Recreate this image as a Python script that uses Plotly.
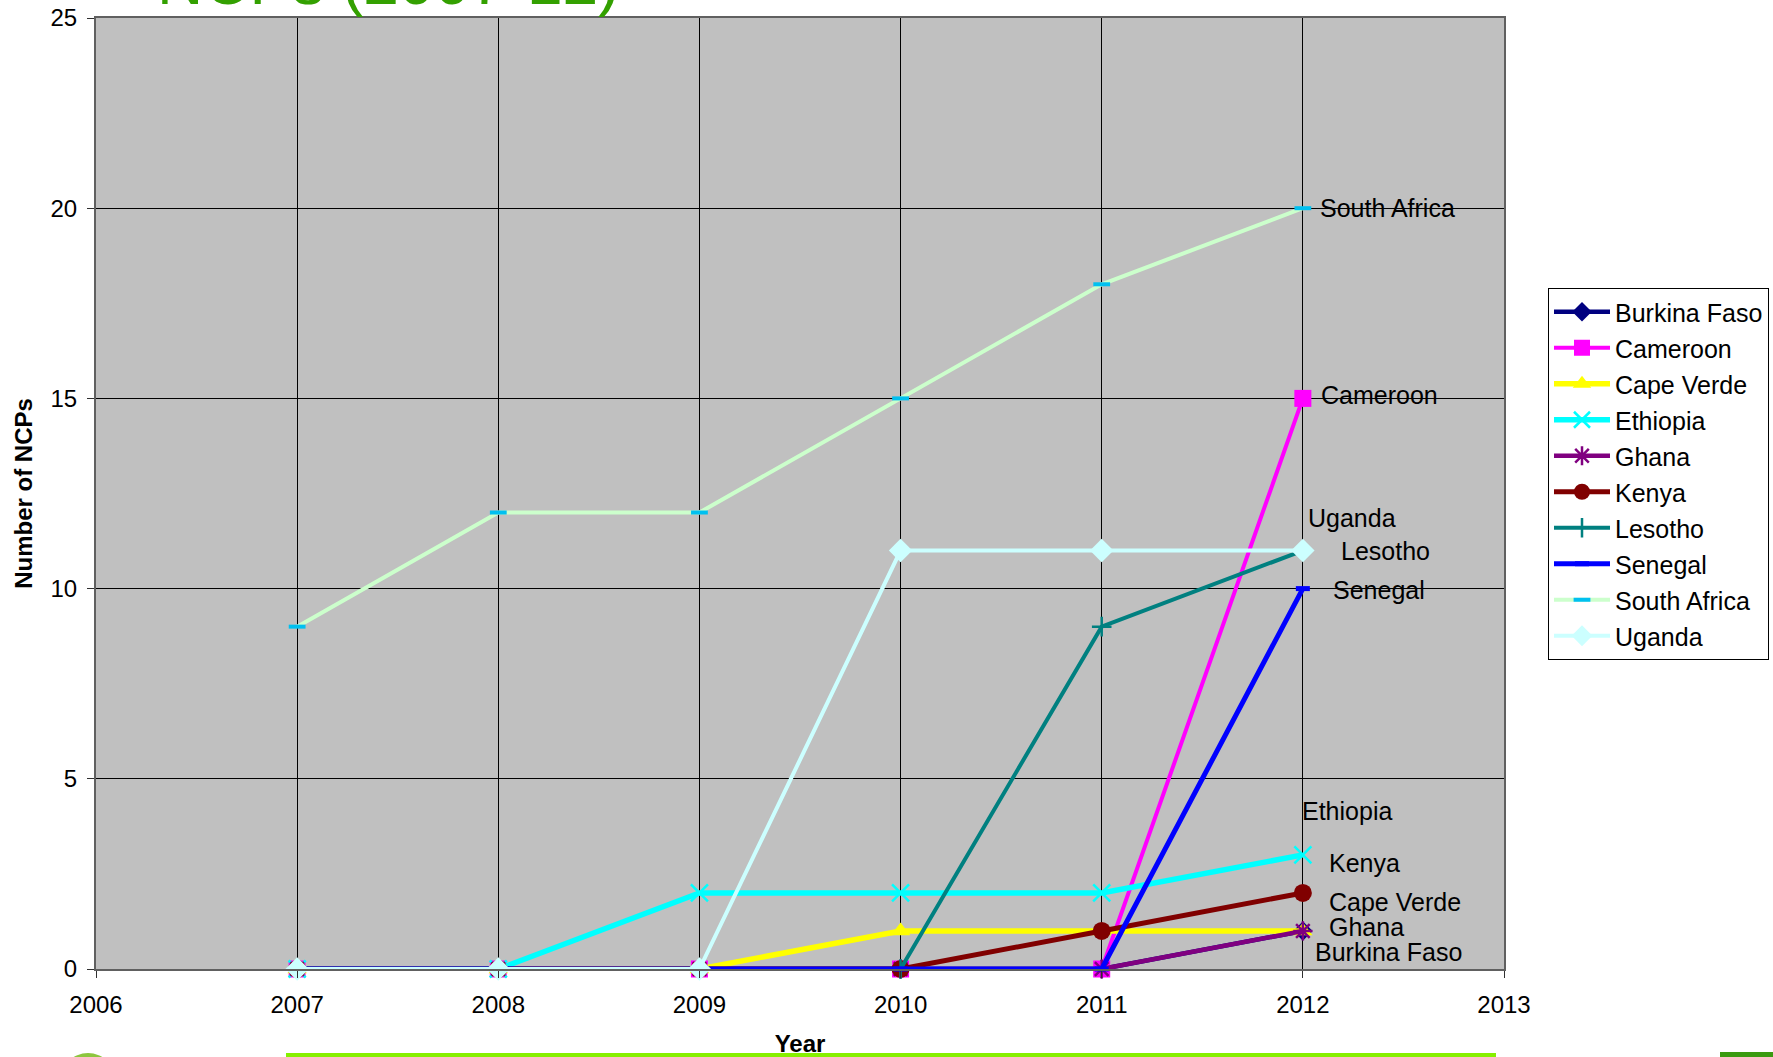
import plotly.graph_objects as go

years = [2007, 2008, 2009, 2010, 2011, 2012]
countries = ["Burkina Faso", "Cameroon", "Cape Verde", "Ethiopia", "Ghana",
             "Kenya", "Lesotho", "Senegal", "South Africa", "Uganda"]
burkina_faso = [0, 0, 0, 0, 0, 1]
cameroon = [0, 0, 0, 0, 0, 15]
cape_verde = [0, 0, 0, 1, 1, 1]
ethiopia = [0, 0, 2, 2, 2, 3]
ghana = [0, 0, 0, 0, 0, 1]
kenya = [0, 0, 0, 0, 1, 2]
lesotho = [0, 0, 0, 0, 9, 11]
senegal = [0, 0, 0, 0, 0, 10]
south_africa = [9, 12, 12, 15, 18, 20]
uganda = [0, 0, 0, 11, 11, 11]
series = [burkina_faso, cameroon, cape_verde, ethiopia, ghana,
          kenya, lesotho, senegal, south_africa, uganda]

# styling: line colour, line width, marker symbol, marker colour, marker size, marker line width
styles = {
    "Burkina Faso": ("#000080", 4.5, "diamond", "#000080", 15, 0),
    "Cameroon": ("#FF00FF", 4, "square", "#FF00FF", 17, 0),
    "Cape Verde": ("#FFFF00", 5.5, "triangle-up", "#FFFF00", 17, 0),
    "Ethiopia": ("#00FFFF", 5.5, "x-thin-open", "#00FFFF", 17, 2.5),
    "Ghana": ("#800080", 4.5, "asterisk-open", "#800080", 16, 2.5),
    "Kenya": ("#800000", 5, "circle", "#800000", 18, 0),
    "Lesotho": ("#008080", 4, "cross-thin-open", "#008080", 14, 2.5),
    "Senegal": ("#0000FF", 5, "line-ew-open", "#0000FF", 10, 5),
    "South Africa": ("#CCFFCC", 4, "line-ew-open", "#00C0F0", 12, 4),
    "Uganda": ("#CCFFFF", 4, "diamond", "#CCFFFF", 18, 0),
}

# data label offsets in pixels from each series' last point (right, up)
label_offsets = {
    "South Africa": (15, 0),
    "Cameroon": (16, 3),
    "Uganda": (3, 33),
    "Lesotho": (36, 0),
    "Senegal": (28, -1),
    "Ethiopia": (-3, 44),
    "Kenya": (24, 30),
    "Cape Verde": (24, 29),
    "Ghana": (24, 4),
    "Burkina Faso": (10, -21),
}

FONT = "Liberation Sans, Arial, sans-serif"

fig = go.Figure()
for name, vals in zip(countries, series):
    lc, lw, sym, mc, ms, mlw = styles[name]
    marker = dict(symbol=sym, color=mc, size=ms)
    if mlw:
        marker["line"] = dict(color=mc, width=mlw)
    else:
        marker["line"] = dict(width=0)
    fig.add_trace(go.Scatter(
        x=years, y=vals, name=name, mode="lines+markers",
        line=dict(color=lc, width=lw), marker=marker,
        legendgroup=name, cliponaxis=False,
    ))

annotations = []
for name, vals in zip(countries, series):
    dx, dy = label_offsets[name]
    annotations.append(dict(
        x=years[-1], y=vals[-1], xref="x", yref="y", text=name,
        showarrow=False, xanchor="left", yanchor="middle",
        xshift=dx, yshift=dy, font=dict(family=FONT, size=25, color="black"),
    ))

# partially visible slide title above the chart
annotations.append(dict(
    x=0.042, y=1, xref="paper", yref="paper", text="NCPs (2007-12)",
    showarrow=False, xanchor="left", yanchor="bottom", yshift=-2,
    font=dict(family=FONT, size=64, color="#33A000"),
))

W, H = 1773, 1057
L, R, T, B = 96, 269, 18, 88
pw, ph = W - L - R, H - T - B


def px_x(p):
    return (p - L) / pw


def px_y(p):
    return (H - B - p) / ph


shapes = [
    # slide decorations
    dict(type="rect", xref="paper", yref="paper",
         x0=px_x(286), x1=px_x(1496), y0=px_y(1062), y1=px_y(1053),
         fillcolor="#86F000", line=dict(width=0), layer="above"),
    dict(type="circle", xref="paper", yref="paper",
         x0=px_x(60), x1=px_x(116), y0=px_y(1110), y1=px_y(1053),
         fillcolor="#8DC63F", line=dict(width=0), layer="above"),
    dict(type="rect", xref="paper", yref="paper",
         x0=px_x(1720), x1=px_x(1790), y0=px_y(1062), y1=px_y(1052),
         fillcolor="#3A9A10", line=dict(width=0), layer="above"),
]

axis_common = dict(
    showgrid=True, gridcolor="#000000", gridwidth=1,
    ticks="outside", ticklen=7, tickwidth=1, tickcolor="#303030",
    showline=True, linecolor="#606060", linewidth=2, mirror=True,
    zeroline=False, automargin=False,
    tickfont=dict(family=FONT, size=24, color="black"),
)

fig.update_layout(
    width=W, height=H,
    margin=dict(l=L, r=R, t=T, b=B, autoexpand=False),
    paper_bgcolor="white", plot_bgcolor="#C0C0C0",
    font=dict(family=FONT, color="black"),
    xaxis=dict(range=[2006, 2013], tick0=2006, dtick=1, ticklabelstandoff=6,
               title=dict(text="<b>Year</b>", font=dict(family=FONT, size=24), standoff=27),
               **axis_common),
    yaxis=dict(range=[0, 25], tick0=0, dtick=5, ticklabelstandoff=5,
               title=dict(text="<b>Number of NCPs</b>", font=dict(family=FONT, size=24), standoff=11),
               **axis_common),
    legend=dict(xref="container", yref="container",
                x=1548 / W, y=1 - 288 / H, xanchor="left", yanchor="top",
                bgcolor="white", bordercolor="black", borderwidth=1,
                font=dict(family=FONT, size=25, color="black"),
                itemwidth=56,
                traceorder="grouped", tracegroupgap=0.5),
    showlegend=True,
    annotations=annotations,
    shapes=shapes,
)

fig.write_html("out.html", config={"displayModeBar": False},
               post_script="document.body.style.margin='0';")
